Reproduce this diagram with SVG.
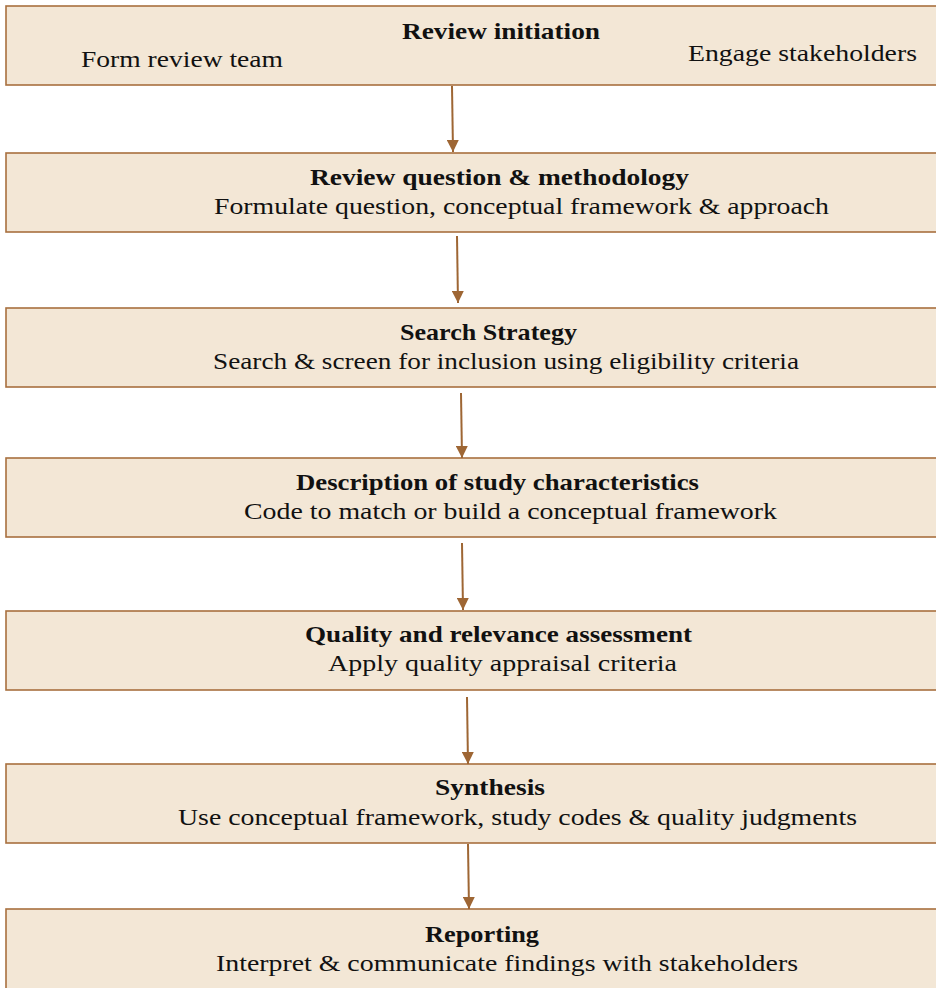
<svg xmlns="http://www.w3.org/2000/svg" width="936" height="988" viewBox="0 0 936 988">
<style>
.box{fill:#F3E7D6;stroke:#A8703F;stroke-width:1.6}
.t{font-family:"Liberation Serif","DejaVu Serif",serif;font-size:23px;fill:#111}
.b{font-weight:bold}
.c{stroke:#9E6634;stroke-width:2;fill:none}
</style>
<defs>
<marker id="ah" viewBox="0 0 10 10" refX="10" refY="5" markerWidth="6" markerHeight="6" markerUnits="strokeWidth" orient="auto">
<path d="M0,0 L10,5 L0,10 z" fill="#9E6634"/>
</marker>
</defs>
<rect width="936" height="988" fill="#fff"/>
<g id="n1"><rect class="box" x="6" y="6" width="940" height="79"/>
<text class="t b" x="402" y="39" textLength="198" lengthAdjust="spacingAndGlyphs">Review initiation</text>
<text class="t" x="81" y="67" textLength="202" lengthAdjust="spacingAndGlyphs">Form review team</text>
<text class="t" x="688" y="61" textLength="229" lengthAdjust="spacingAndGlyphs">Engage stakeholders</text></g>
<g id="n2"><rect class="box" x="6" y="153" width="940" height="79"/>
<text class="t b" x="310" y="185" textLength="379" lengthAdjust="spacingAndGlyphs">Review question &amp; methodology</text>
<text class="t" x="214" y="214" textLength="615" lengthAdjust="spacingAndGlyphs">Formulate question, conceptual framework &amp; approach</text></g>
<g id="n3"><rect class="box" x="6" y="308" width="940" height="79"/>
<text class="t b" x="400" y="340" textLength="177" lengthAdjust="spacingAndGlyphs">Search Strategy</text>
<text class="t" x="213" y="369" textLength="586" lengthAdjust="spacingAndGlyphs">Search &amp; screen for inclusion using eligibility criteria</text></g>
<g id="n4"><rect class="box" x="6" y="458" width="940" height="79"/>
<text class="t b" x="296" y="490" textLength="403" lengthAdjust="spacingAndGlyphs">Description of study characteristics</text>
<text class="t" x="244" y="519" textLength="533" lengthAdjust="spacingAndGlyphs">Code to match or build a conceptual framework</text></g>
<g id="n5"><rect class="box" x="6" y="611" width="940" height="79"/>
<text class="t b" x="305" y="642" textLength="387" lengthAdjust="spacingAndGlyphs">Quality and relevance assessment</text>
<text class="t" x="328" y="671" textLength="349" lengthAdjust="spacingAndGlyphs">Apply quality appraisal criteria</text></g>
<g id="n6"><rect class="box" x="6" y="764" width="940" height="79"/>
<text class="t b" x="435" y="795" textLength="110" lengthAdjust="spacingAndGlyphs">Synthesis</text>
<text class="t" x="178" y="825" textLength="679" lengthAdjust="spacingAndGlyphs">Use conceptual framework, study codes &amp; quality judgments</text></g>
<g id="n7"><rect class="box" x="6" y="909" width="940" height="90"/>
<text class="t b" x="425" y="942" textLength="114" lengthAdjust="spacingAndGlyphs">Reporting</text>
<text class="t" x="216" y="971" textLength="582" lengthAdjust="spacingAndGlyphs">Interpret &amp; communicate findings with stakeholders</text></g>
<g id="connectors">
<line class="c" x1="452" y1="86" x2="453" y2="152" marker-end="url(#ah)"/>
<line class="c" x1="457" y1="236" x2="458" y2="303" marker-end="url(#ah)"/>
<line class="c" x1="461" y1="393" x2="462" y2="458" marker-end="url(#ah)"/>
<line class="c" x1="462" y1="543" x2="463" y2="610" marker-end="url(#ah)"/>
<line class="c" x1="467" y1="697" x2="468" y2="764" marker-end="url(#ah)"/>
<line class="c" x1="468" y1="844" x2="469" y2="909" marker-end="url(#ah)"/>
</g>
</svg>
